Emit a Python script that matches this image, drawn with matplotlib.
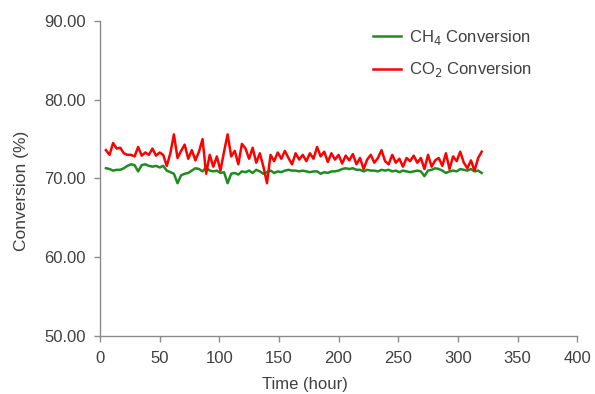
import matplotlib.pyplot as plt

plt.rcParams['font.family'] = ['Liberation Sans', 'DejaVu Sans']

# time on stream (hour)
hours = [5, 8, 11, 14, 17, 20, 23, 26, 29, 32, 35, 38, 41, 44, 47, 50, 53, 56, 59, 62,
         65, 68, 71, 74, 77, 80, 83, 86, 89, 92, 95, 98, 101, 104, 107, 110, 113, 116, 119, 122,
         125, 128, 131, 134, 137, 140, 143, 146, 149, 152, 155, 158, 161, 164, 167, 170, 173, 176, 179, 182,
         185, 188, 191, 194, 197, 200, 203, 206, 209, 212, 215, 218, 221, 224, 227, 230, 233, 236, 239, 242,
         245, 248, 251, 254, 257, 260, 263, 266, 269, 272, 275, 278, 281, 284, 287, 290, 293, 296, 299, 302,
         305, 308, 311, 314, 317, 320]

ch4_conv = [71.3, 71.2, 71.0, 71.1, 71.1, 71.3, 71.6, 71.8, 71.7, 70.9, 71.7, 71.8, 71.6, 71.5, 71.6, 71.4, 71.6, 71.0, 70.8, 70.6,
            69.4, 70.4, 70.6, 70.7, 71.0, 71.3, 71.2, 70.9, 71.4, 71.0, 70.9, 71.0, 70.7, 70.8, 69.4, 70.6, 70.7, 70.5, 70.9, 70.8,
            71.0, 70.7, 71.1, 70.9, 70.6, 70.8, 71.0, 70.7, 70.9, 70.8, 71.0, 71.1, 71.0, 71.0, 70.9, 71.0, 70.9, 70.8, 70.9, 70.9,
            70.6, 70.8, 70.7, 70.9, 70.9, 71.0, 71.2, 71.3, 71.2, 71.3, 71.1, 71.1, 70.9, 71.1, 71.0, 71.0, 70.9, 71.1, 71.0, 71.1,
            70.9, 71.0, 70.8, 71.0, 70.9, 70.8, 70.9, 71.0, 70.9, 70.3, 71.0, 71.1, 71.3, 71.2, 71.0, 70.7, 70.9, 71.0, 70.9, 71.2,
            71.1, 71.0, 71.2, 70.9, 71.0, 70.7]

co2_conv = [73.6, 73.0, 74.5, 73.8, 73.9, 73.2, 73.0, 73.0, 72.8, 74.0, 72.9, 73.3, 73.0, 73.8, 72.9, 73.3, 73.0, 71.6, 73.2, 75.6,
            72.6, 73.5, 74.3, 72.5, 73.6, 72.3, 73.4, 75.0, 70.6, 73.0, 71.5, 72.8, 71.0, 73.4, 75.6, 72.8, 73.5, 71.8, 74.4, 73.8,
            72.5, 73.9, 72.0, 73.2, 71.5, 69.4, 73.0, 72.2, 73.3, 72.5, 73.5, 72.6, 71.8, 73.2, 72.4, 73.0, 72.2, 73.2, 72.5, 74.0,
            72.8, 73.4, 72.1, 73.2, 72.4, 73.0, 71.9, 72.9, 72.3, 73.1, 71.8, 72.6, 71.2, 72.4, 73.0, 72.0, 72.6, 73.6, 72.2, 71.8,
            73.0, 72.0, 72.5, 71.5, 72.6, 72.2, 72.9, 72.0, 72.6, 71.2, 73.0, 71.5, 72.3, 72.6, 71.6, 73.2, 71.2, 72.8, 72.2, 73.4,
            72.0, 71.3, 72.3, 71.0, 72.6, 73.4]

txt = '#404040'
axis_col = '#8c8c8c'

fig = plt.figure(figsize=(5.95, 3.94), dpi=100)
ax = fig.add_axes([0.168, 0.147, 0.802, 0.800])

ax.plot(hours, ch4_conv, color='#1e8c1e', lw=1.8, label='CH$_4$ Conversion')
ax.plot(hours, co2_conv, color='#ff0000', lw=1.8, label='CO$_2$ Conversion')

ax.set_xlim(0, 400)
ax.set_ylim(50, 90)
ax.set_xticks(range(0, 401, 50))
ax.set_yticks(range(50, 91, 10))
ax.set_yticklabels(['%.2f' % v for v in range(50, 91, 10)])

for s in ['top', 'right']:
    ax.spines[s].set_visible(False)
for s in ['left', 'bottom']:
    ax.spines[s].set_color(axis_col)
    ax.spines[s].set_linewidth(1)
ax.tick_params(colors=axis_col, labelcolor=txt, labelsize=12, length=4, width=1)
ax.tick_params(axis='x', pad=7)
ax.tick_params(axis='y', pad=6)

ax.set_xlabel('Time (hour)', color=txt, fontsize=12)
ax.set_ylabel('Conversion (%)', color=txt, fontsize=12.5)
ax.xaxis.set_label_coords(0.429, -0.13)
ax.yaxis.set_label_coords(-0.148, 0.46)

leg = ax.legend(loc='upper left', bbox_to_anchor=(0.54, 1.025), frameon=False,
                fontsize=12, handlelength=1.7, labelspacing=0.8, handletextpad=0.5)
for t in leg.get_texts():
    t.set_color(txt)

plt.savefig('out.png', dpi=100)
